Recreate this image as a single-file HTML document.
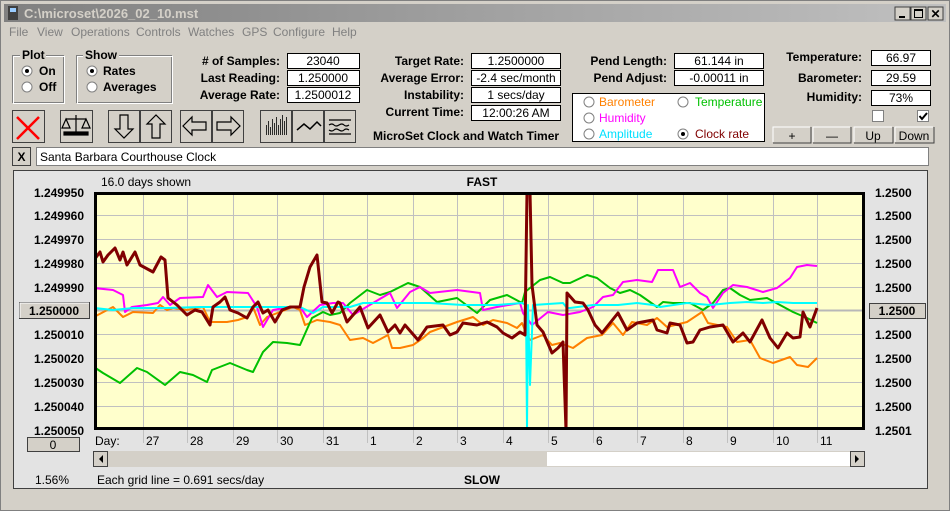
<!DOCTYPE html>
<html><head><meta charset="utf-8"><style>
html,body{margin:0;padding:0;background:#d4d0c8;}
svg{display:block;font-family:"Liberation Sans",sans-serif;}
.b{font-weight:bold;font-size:12px;}
.n{font-size:12px;}
</style></head><body>
<svg width="950" height="511" viewBox="0 0 950 511" xmlns="http://www.w3.org/2000/svg">
<defs>
<linearGradient id="tg" x1="0" x2="1"><stop offset="0" stop-color="#808080"/><stop offset="1" stop-color="#c0c0c0"/></linearGradient>
<clipPath id="pc"><rect x="97" y="195" width="765" height="232"/></clipPath>
</defs>
<rect width="950" height="511" fill="#d4d0c8"/>
<rect x="0.5" y="0.5" width="949" height="510" fill="none" stroke="#808080"/>
<rect x="4" y="4" width="942" height="18" fill="url(#tg)"/>
<rect x="8" y="6" width="10" height="14" fill="#404040"/><rect x="10" y="8" width="6" height="4" fill="#9cf"/>
<text x="24" y="18" fill="#d4d0c8" font-weight="bold" font-size="13">C:\microset\2026_02_10.mst</text>
<g>
<rect x="895" y="7" width="15" height="13" fill="#d4d0c8" stroke="#404040"/><rect x="899" y="16" width="6" height="2" fill="#000"/>
<rect x="911" y="7" width="15" height="13" fill="#d4d0c8" stroke="#404040"/><rect x="914.5" y="9.5" width="8" height="8" fill="none" stroke="#000"/><rect x="914" y="9" width="9" height="2" fill="#000"/>
<rect x="928" y="7" width="15" height="13" fill="#d4d0c8" stroke="#404040"/><text x="935.5" y="18" text-anchor="middle" font-size="12" font-weight="bold">✕</text>
</g>
<g class="n" fill="#808080">
<text x="9" y="36">File</text><text x="37" y="36">View</text><text x="71" y="36">Operations</text><text x="136" y="36">Controls</text><text x="188" y="36">Watches</text><text x="242" y="36">GPS</text><text x="273" y="36">Configure</text><text x="332" y="36">Help</text>
</g>
<rect x="12.5" y="55.5" width="51" height="47" fill="none" stroke="#808080"/><rect x="13.5" y="56.5" width="51" height="47" fill="none" stroke="#fff"/>
<rect x="20" y="50" width="26" height="10" fill="#d4d0c8"/><text x="22" y="59" class="b">Plot</text>
<rect x="76.5" y="55.5" width="95" height="47" fill="none" stroke="#808080"/><rect x="77.5" y="56.5" width="95" height="47" fill="none" stroke="#fff"/>
<rect x="83" y="50" width="36" height="10" fill="#d4d0c8"/><text x="85" y="59" class="b">Show</text>
<g stroke="#808080" fill="#fff">
<circle cx="27" cy="71" r="5"/><circle cx="27" cy="87" r="5"/><circle cx="92" cy="71" r="5"/><circle cx="92" cy="87" r="5"/>
</g>
<circle cx="27" cy="71" r="2" fill="#000"/><circle cx="92" cy="71" r="2" fill="#000"/>
<g class="b"><text x="39" y="75">On</text><text x="39" y="91">Off</text><text x="103" y="75">Rates</text><text x="103" y="91">Averages</text></g>
<g class="b" text-anchor="end">
<text x="280" y="65"># of Samples:</text><text x="280" y="82">Last Reading:</text><text x="280" y="99">Average Rate:</text>
<text x="464" y="65">Target Rate:</text><text x="464" y="82">Average Error:</text><text x="464" y="99">Instability:</text><text x="464" y="116">Current Time:</text>
<text x="667" y="65">Pend Length:</text><text x="667" y="82">Pend Adjust:</text>
<text x="862" y="61">Temperature:</text><text x="862" y="82">Barometer:</text><text x="862" y="101">Humidity:</text>
</g>
<g fill="#fff" stroke="#000">
<rect x="287.5" y="53.5" width="72" height="15"/><rect x="287.5" y="70.5" width="72" height="15"/><rect x="287.5" y="87.5" width="72" height="15"/>
<rect x="471.5" y="53.5" width="89" height="15"/><rect x="471.5" y="70.5" width="89" height="15"/><rect x="471.5" y="87.5" width="89" height="15"/><rect x="471.5" y="105.5" width="89" height="15"/>
<rect x="674.5" y="53.5" width="89" height="15"/><rect x="674.5" y="70.5" width="89" height="15"/>
<rect x="871.5" y="50.5" width="59" height="15"/><rect x="871.5" y="70.5" width="59" height="15"/><rect x="871.5" y="90.5" width="59" height="15"/>
<rect x="572.5" y="93.5" width="192" height="48"/>
</g>
<g class="n" text-anchor="middle">
<text x="323" y="65">23040</text><text x="323" y="82">1.250000</text><text x="323" y="99">1.2500012</text>
<text x="516" y="65">1.2500000</text><text x="516" y="82">-2.4 sec/month</text><text x="516" y="99">1 secs/day</text><text x="516" y="117">12:00:26 AM</text>
<text x="719" y="65">61.144 in</text><text x="719" y="82">-0.00011 in</text>
<text x="901" y="62">66.97</text><text x="901" y="82">29.59</text><text x="901" y="102">73%</text>
</g>
<g stroke="#808080" fill="#fff">
<circle cx="589" cy="102" r="5"/><circle cx="683" cy="102" r="5"/><circle cx="589" cy="118" r="5"/><circle cx="589" cy="134" r="5"/><circle cx="683" cy="134" r="5"/>
</g>
<circle cx="683" cy="134" r="2" fill="#000"/>
<g class="n"><text x="599" y="106" fill="#ff8000">Barometer</text><text x="695" y="106" fill="#00c000">Temperature</text><text x="599" y="122" fill="#ff00ff">Humidity</text><text x="599" y="138" fill="#00e0ff">Amplitude</text><text x="695" y="138" fill="#800000">Clock rate</text></g>
<rect x="872.5" y="110.5" width="11" height="11" fill="#fff" stroke="#808080"/>
<rect x="917.5" y="110.5" width="11" height="11" fill="#fff" stroke="#808080"/>
<path d="M919.5 116 l2.5 3 l5 -6" fill="none" stroke="#000" stroke-width="2"/>
<text x="373" y="140" class="b">MicroSet Clock and Watch Timer</text>
<g fill="#d4d0c8">
<rect x="773" y="127" width="38" height="16"/><rect x="813" y="127" width="38" height="16"/><rect x="854" y="127" width="39" height="16"/><rect x="895" y="127" width="39" height="16"/>
</g>
<g fill="none" stroke="#404040"><path d="M773 143h38V127M813 143h38V127M854 143h39V127M895 143h39V127"/></g>
<g fill="none" stroke="#fff"><path d="M773 142V127h37M813 142V127h37M854 142V127h38M895 142V127h38"/></g>
<g class="n" text-anchor="middle"><text x="792" y="140">+</text><text x="832" y="140">—</text><text x="873" y="140">Up</text><text x="914" y="140">Down</text></g>
<g fill="#d4d0c8" stroke="#404040">
<rect x="12.5" y="110.5" width="32" height="32"/><rect x="60.5" y="110.5" width="32" height="32"/>
<rect x="108.5" y="110.5" width="31" height="32"/><rect x="140.5" y="110.5" width="31" height="32"/>
<rect x="180.5" y="110.5" width="31" height="32"/><rect x="212.5" y="110.5" width="31" height="32"/>
<rect x="260.5" y="110.5" width="31" height="32"/><rect x="292.5" y="110.5" width="31" height="32"/><rect x="324.5" y="110.5" width="31" height="32"/>
</g>
<path d="M17 117l22 22M39 117l-22 22" stroke="#ff0000" stroke-width="2.5"/>
<g stroke="#000" fill="none" stroke-width="1.2">
<path d="M76 115v20M66 119h20M66 119l-4 9h8zM86 119l-4 9h8z"/><rect x="64" y="132" width="24" height="3" fill="#000"/>
<path d="M120 115h8v14h5l-9 9l-9-9h5z"/><path d="M152 138h8v-14h5l-9-9l-9 9h5z"/>
<path d="M206 122v8h-14v5l-9-9l9-9v5z"/><path d="M217 122v8h14v5l9-9l-9-9v5z"/>
</g>
<g stroke="#000" fill="none" stroke-width="0.8">
<path d="M266.5 135v-10M268.5 135v-14M270.5 135v-8M272.5 135v-16M274.5 135v-12M276.5 135v-18M278.5 135v-10M280.5 135v-16M282.5 135v-20M284.5 135v-14M286.5 135v-18"/>
</g>
<g stroke="#000" fill="none" stroke-width="1.2">
<path d="M297 130l7-6l6 5l7-7l4 4" stroke-width="1.5"/>
<path d="M329 120h22M329 125q3-2 5 0t5 0t5 0t5 0M329 130q3 2 5 0t5 0t5 0t5 0M329 134h22"/>
</g>
<rect x="12.5" y="147.5" width="18" height="18" fill="#d4d0c8" stroke="#404040"/><text x="21.5" y="161" text-anchor="middle" class="b">X</text>
<rect x="36.5" y="147.5" width="892" height="18" fill="#fff" stroke="#808080"/>
<text x="40" y="161" class="n">Santa Barbara Courthouse Clock</text>
<rect x="13.5" y="170.5" width="914" height="318" fill="#e3e3e3" stroke="#404040"/>
<rect x="95" y="193" width="769" height="236" fill="#ffffcc"/>
<g stroke="#c0c0c0" stroke-width="1">
<path d="M97 215.5h765M97 239.5h765M97 263.5h765M97 287.5h765M97 334.5h765M97 358.5h765M97 382.5h765M97 406.5h765"/>
<path d="M143.5 195v248M187.5 195v248M233.5 195v248M277.5 195v248M323.5 195v248M367.5 195v248M413.5 195v248M457.5 195v248M503.5 195v248M548.5 195v248M593.5 195v248M637.5 195v248M683.5 195v248M727.5 195v248M773.5 195v248M817.5 195v248"/>
</g>
<path d="M97 310.5h765" stroke="#b8b8b8" stroke-width="2"/>
<rect x="95.5" y="193.5" width="768" height="235" fill="none" stroke="#000" stroke-width="3"/>
<g clip-path="url(#pc)" fill="none" stroke-linejoin="round">
<polyline stroke="#ff8000" stroke-width="2" points="94,317 113,307 123,317 133,312 153,313 160,305 167,310 173,308 187,310 203,307 210,322 227,322 238,320 247,317 253,307 260,325 267,317 280,312 293,307 300,310 305,325 317,320 330,322 340,325 350,340 363,338 373,343 388,335 392,348 400,348 413,345 423,338 430,332 457,322 473,317 483,325 493,320 507,323 517,328 522,323 527,335 530,340 543,335 552,345 560,343 573,348 587,338 602,335 613,323 623,335 632,322 647,325 657,318 667,327 687,322 702,312 708,323 727,327 737,342 750,340 760,358 773,363 790,357 797,365 808,367 817,358"/>
<polyline stroke="#00c000" stroke-width="2" points="94,367 103,373 120,383 137,368 147,372 165,385 180,372 193,375 207,382 212,370 230,363 247,370 253,372 263,352 273,342 287,343 300,345 312,318 323,312 330,315 340,313 350,303 367,290 380,295 390,292 408,283 420,287 437,302 457,298 477,313 490,300 507,295 522,303 525,292 540,280 550,277 563,283 570,283 587,275 597,278 610,288 620,293 630,290 640,295 657,307 663,302 673,303 690,303 703,310 713,303 723,290 730,288 740,295 750,300 767,298 780,305 793,312 807,318 817,323"/>
<polyline stroke="#ff00ff" stroke-width="2" points="94,288 113,290 123,295 125,312 132,307 147,305 158,303 163,297 170,305 180,298 203,297 208,285 217,297 227,292 248,293 257,307 263,327 273,310 290,307 300,307 307,317 320,305 333,303 343,303 353,315 373,303 390,293 397,308 410,292 420,287 430,293 457,290 480,293 483,310 497,307 520,303 523,313 532,325 548,312 563,315 580,312 593,307 603,297 613,295 623,282 637,280 652,282 658,270 673,270 680,287 690,283 700,293 707,297 713,308 723,293 733,285 747,287 763,292 777,288 790,278 797,267 807,265 817,266"/>
<polyline stroke="#00ffff" stroke-width="2" points="94,308 113,310 133,308 167,308 200,307 233,307 267,307 300,307 313,313 323,307 330,307 350,307 363,303 383,303 397,303 430,303 463,305 497,305 522,303 526,305 527,430 528,305 530,385 533,305 563,303 567,308 570,308 593,305 618,305 637,303 653,305 660,307 687,303 710,305 730,303 747,302 763,303 777,302 793,303 817,303"/>
<polyline stroke="#800000" stroke-width="3" points="94,260 100,252 103,262 108,255 115,248 120,260 123,252 127,265 135,252 140,265 153,272 161,257 165,260 168,298 177,305 187,315 195,310 202,312 210,325 213,307 220,302 225,297 230,310 238,313 247,318 253,307 258,302 263,313 268,310 275,322 282,310 290,307 300,307 304,287 310,267 317,255 322,302 327,303 332,313 338,302 340,303 347,322 360,307 368,328 380,315 388,332 395,325 400,333 405,325 418,340 427,327 443,325 450,335 457,332 463,323 477,325 487,322 497,327 503,333 512,338 520,332 525,335 527,192 530,192 532,285 537,325 543,332 552,353 558,348 563,342 566,430 567,293 575,302 583,303 588,310 595,325 602,333 618,313 627,330 637,323 653,320 657,330 667,333 670,323 680,325 687,343 693,342 700,330 710,327 723,325 733,342 743,333 750,342 762,320 770,338 778,348 787,333 793,338 800,337 803,312 810,327 817,308"/>
</g>
<g class="b" text-anchor="end">
<text x="84" y="197">1.249950</text><text x="84" y="220">1.249960</text><text x="84" y="244">1.249970</text><text x="84" y="268">1.249980</text><text x="84" y="292">1.249990</text><text x="84" y="339">1.250010</text><text x="84" y="363">1.250020</text><text x="84" y="387">1.250030</text><text x="84" y="411">1.250040</text><text x="84" y="435">1.250050</text>
</g>
<rect x="19.5" y="302.5" width="70" height="16" fill="#d4d0c8" stroke="#404040"/><path d="M20 318V303h69" stroke="#fff" fill="none"/>
<text x="54" y="315" class="b" text-anchor="middle">1.250000</text>
<rect x="27.5" y="437.5" width="52" height="14" fill="#d4d0c8" stroke="#404040"/><text x="53" y="449" class="n" text-anchor="middle">0</text>
<g class="b">
<text x="875" y="197">1.2500</text><text x="875" y="220">1.2500</text><text x="875" y="244">1.2500</text><text x="875" y="268">1.2500</text><text x="875" y="292">1.2500</text><text x="875" y="339">1.2500</text><text x="875" y="363">1.2500</text><text x="875" y="387">1.2500</text><text x="875" y="411">1.2500</text><text x="875" y="435">1.2501</text>
</g>
<rect x="869.5" y="303.5" width="56" height="15" fill="#d4d0c8" stroke="#404040"/><text x="897" y="315" class="b" text-anchor="middle">1.2500</text>
<text x="101" y="186" class="n">16.0 days shown</text>
<text x="482" y="186" class="b" text-anchor="middle">FAST</text>
<g class="n">
<text x="95" y="445">Day:</text><text x="146" y="445">27</text><text x="190" y="445">28</text><text x="236" y="445">29</text><text x="280" y="445">30</text><text x="326" y="445">31</text><text x="370" y="445">1</text><text x="416" y="445">2</text><text x="460" y="445">3</text><text x="506" y="445">4</text><text x="551" y="445">5</text><text x="596" y="445">6</text><text x="640" y="445">7</text><text x="686" y="445">8</text><text x="730" y="445">9</text><text x="776" y="445">10</text><text x="820" y="445">11</text>
</g>
<rect x="93" y="451" width="772" height="16" fill="#d4d0c8"/>
<rect x="547" y="452" width="303" height="14" fill="#fff"/>
<rect x="93.5" y="451.5" width="14" height="15" fill="#d4d0c8" stroke="#404040"/><path d="M103 455v8l-4-4z" fill="#000"/>
<rect x="850.5" y="451.5" width="14" height="15" fill="#d4d0c8" stroke="#404040"/><path d="M855 455v8l4-4z" fill="#000"/>
<text x="35" y="484" class="n">1.56%</text>
<text x="97" y="484" class="n">Each grid line = 0.691 secs/day</text>
<text x="482" y="484" class="b" text-anchor="middle">SLOW</text>
</svg>
</body></html>
